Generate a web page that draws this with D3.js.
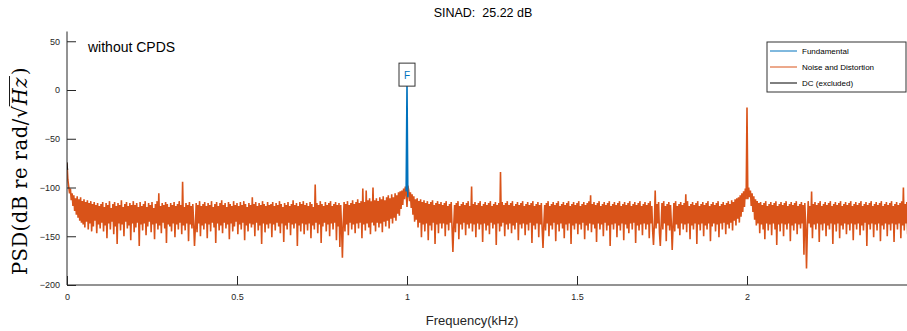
<!DOCTYPE html>
<html>
<head>
<meta charset="utf-8">
<script src="https://cdn.jsdelivr.net/npm/d3@7"></script>
<style>
  body { margin: 0; background: #fff; }
  svg { display: block; }
</style>
</head>
<body>
<svg id="chart" width="907" height="331"></svg>
<script>
// noise + distortion PSD (dB), one value every freqStep kHz starting at 0 kHz
const freqStep = 0.0025;
const noiseDb = [
  -75, -92, -99, -106, -101, -113, -106, -119, -108, -124, -111, -128, -109, -131, -112, -134, -110, -136, -114, -138, -112, -141, -115, -135, -113, -143, -116, -137, -114, -145, -117, -140, -115, -134, -118, -147, -116, -138, -119, -142,
  -117, -136, -115, -145, -120, -139, -116, -152, -118, -137, -114, -143, -121, -135, -117, -148, -115, -140, -119, -158, -116, -137, -118, -144, -113, -138, -120, -150, -117, -135, -115, -142, -119, -139, -116, -154, -118, -137, -114, -146,
  -118, -141, -116, -136, -120, -160, -115, -138, -119, -144, -117, -137, -114, -149, -120, -140, -116, -135, -118, -146, -115, -138, -121, -153, -117, -137, -114, -143, -106, -139, -119, -147, -116, -136, -118, -142, -115, -157, -117, -138,
  -120, -140, -116, -145, -118, -137, -115, -151, -119, -138, -117, -143, -114, -136, -118, -148, -94, -139, -120, -144, -116, -137, -118, -155, -115, -138, -119, -142, -117, -136, -160, -141, -116, -146, -118, -137, -114, -150, -119, -139,
  -117, -143, -115, -137, -119, -152, -116, -138, -118, -145, -114, -136, -120, -141, -117, -157, -115, -137, -119, -144, -116, -139, -113, -147, -118, -136, -116, -142, -120, -138, -115, -153, -117, -137, -119, -145, -114, -140, -118, -135,
  -116, -148, -119, -138, -115, -143, -118, -136, -114, -154, -117, -139, -120, -145, -116, -137, -118, -141, -110, -138, -117, -150, -115, -136, -119, -144, -116, -139, -118, -158, -114, -137, -117, -146, -119, -138, -115, -142, -118, -137,
  -117, -151, -115, -138, -119, -144, -116, -136, -118, -140, -114, -147, -117, -137, -120, -156, -116, -139, -118, -143, -115, -136, -119, -149, -117, -138, -113, -142, -118, -137, -116, -160, -119, -139, -115, -145, -117, -137, -114, -148,
  -118, -138, -116, -144, -119, -137, -115, -152, -117, -139, -120, -143, -97, -136, -116, -147, -118, -138, -114, -157, -117, -140, -119, -136, -115, -145, -118, -138, -116, -150, -114, -137, -119, -143, -117, -136, -115, -154, -118, -140,
  -116, -161, -118, -141, -172, -137, -115, -145, -117, -138, -114, -149, -118, -136, -116, -143, -113, -138, -117, -147, -115, -137, -112, -142, -116, -136, -114, -152, -101, -138, -115, -144, -103, -137, -113, -141, -111, -148, -114, -136,
  -100, -139, -113, -145, -111, -136, -114, -141, -110, -137, -112, -146, -109, -135, -113, -140, -110, -134, -108, -142, -111, -132, -107, -137, -110, -131, -106, -134, -108, -127, -105, -129, -104, -122, -103, -118, -101, -112, -99, -105,
  -120, -98, -103, -114, -105, -121, -107, -128, -109, -135, -112, -133, -111, -141, -114, -136, -112, -151, -115, -138, -113, -145, -116, -137, -114, -154, -117, -139, -115, -144, -113, -136, -118, -158, -116, -138, -114, -147, -117, -137,
  -115, -142, -118, -137, -116, -150, -114, -138, -119, -144, -117, -136, -115, -141, -166, -139, -118, -146, -116, -137, -114, -153, -119, -138, -117, -143, -115, -136, -118, -149, -116, -138, -114, -142, -119, -137, -99, -145, -117, -138,
  -115, -151, -118, -137, -116, -143, -114, -138, -119, -156, -117, -137, -115, -144, -118, -139, -116, -148, -114, -136, -119, -142, -117, -138, -115, -159, -118, -137, -116, -145, -84, -140, -115, -136, -118, -150, -116, -138, -114, -143,
  -118, -137, -116, -147, -114, -139, -119, -143, -117, -136, -115, -154, -118, -138, -116, -142, -114, -137, -119, -149, -117, -138, -115, -144, -118, -136, -116, -157, -114, -139, -119, -143, -117, -137, -115, -151, -118, -138, -116, -142,
  -162, -138, -118, -144, -116, -137, -114, -150, -119, -139, -117, -143, -115, -136, -118, -155, -116, -138, -114, -145, -119, -137, -117, -142, -115, -152, -118, -138, -116, -144, -114, -137, -119, -158, -117, -139, -115, -143, -118, -137,
  -116, -148, -114, -138, -119, -143, -117, -136, -115, -153, -118, -139, -116, -144, -114, -137, -108, -146, -117, -138, -115, -142, -118, -156, -116, -137, -114, -143, -119, -138, -117, -150, -115, -136, -118, -144, -116, -139, -114, -160,
  -119, -138, -117, -143, -115, -137, -118, -151, -116, -139, -114, -144, -119, -137, -117, -154, -115, -138, -118, -142, -116, -147, -114, -137, -119, -143, -117, -136, -115, -157, -118, -139, -116, -144, -114, -138, -119, -149, -117, -137,
  -115, -143, -118, -138, -116, -152, -114, -137, -119, -144, -159, -138, -103, -142, -117, -137, -115, -146, -160, -138, -116, -143, -114, -137, -119, -155, -117, -139, -115, -144, -118, -137, -164, -140, -116, -145, -114, -138, -119, -142,
  -117, -149, -115, -137, -118, -143, -116, -138, -107, -146, -114, -137, -119, -153, -117, -139, -115, -143, -118, -137, -116, -158, -114, -138, -119, -144, -117, -137, -115, -150, -118, -139, -116, -143, -114, -137, -119, -155, -117, -140,
  -115, -137, -118, -145, -116, -138, -114, -151, -119, -137, -117, -143, -115, -136, -118, -148, -116, -138, -114, -142, -117, -136, -113, -144, -115, -134, -112, -139, -111, -132, -110, -136, -108, -130, -106, -125, -104, -120, -101, -112,
  -18, -112, -100, -110, -103, -119, -106, -125, -109, -133, -112, -139, -114, -137, -116, -147, -115, -138, -118, -143, -116, -153, -114, -137, -119, -144, -117, -138, -115, -149, -118, -137, -116, -143, -114, -159, -119, -138, -117, -145,
  -115, -137, -118, -150, -116, -138, -114, -143, -119, -137, -117, -155, -115, -139, -118, -144, -116, -137, -114, -148, -119, -138, -117, -142, -115, -137, -118, -169, -116, -138, -183, -144, -114, -137, -119, -141, -104, -152, -117, -138,
  -115, -143, -118, -137, -116, -156, -114, -138, -119, -144, -117, -137, -115, -150, -118, -139, -116, -143, -114, -137, -119, -158, -117, -138, -115, -145, -118, -137, -116, -152, -114, -139, -119, -143, -117, -137, -115, -148, -118, -138,
  -116, -144, -114, -137, -119, -154, -117, -138, -115, -143, -118, -137, -116, -149, -114, -139, -119, -144, -117, -136, -115, -160, -118, -138, -116, -143, -114, -137, -119, -151, -117, -138, -115, -144, -118, -137, -116, -155, -114, -139,
  -119, -143, -117, -137, -115, -150, -118, -138, -116, -144, -114, -137, -119, -156, -117, -138, -115, -143, -118, -137, -116, -152, -114, -139, -100, -144, -117, -137, -115, -148
];
const fundFreq = [0.9975, 1.0, 1.0025];
const fundDb = [-104, 5, -110];
const dcFreq = [0, 0.002];
const dcDb = [-74, -82];

const xTicks = [0, 0.5, 1, 1.5, 2];
const yTicks = [50, 0, -50, -100, -150, -200];
const legendLabels = ["Fundamental", "Noise and Distortion", "DC (excluded)"];

const blue = "#0072BD", orange = "#D95319", axisCol = "#262626";
const fnt = "'Liberation Sans', Arial, Helvetica, sans-serif";

const svg = d3.select("#chart");
const plotL = 67, plotR = 917, plotT = 31.5, plotB = 285;

const x = d3.scaleLinear().domain([0, 2.5]).range([plotL, plotR]);
const y = d3.scaleLinear().domain([-200, 60]).range([plotB, plotT]);

svg.append("defs").append("clipPath").attr("id", "plotclip")
  .append("rect").attr("x", plotL).attr("y", plotT).attr("width", plotR - plotL).attr("height", plotB - plotT);

const line = d3.line().x(d => x(d[0])).y(d => y(d[1]));
const plot = svg.append("g").attr("clip-path", "url(#plotclip)");

const noisePts = noiseDb.map((v, i) => [i * freqStep, v]);
plot.append("path").datum(noisePts)
  .attr("d", line).attr("fill", "none").attr("stroke", orange)
  .attr("stroke-width", 1.6).attr("stroke-linejoin", "bevel");

plot.append("path").datum(dcFreq.map((f, i) => [f, dcDb[i]]))
  .attr("d", line).attr("fill", "none").attr("stroke", "#000").attr("stroke-width", 1);

plot.append("path").datum(fundFreq.map((f, i) => [f, fundDb[i]]))
  .attr("d", line).attr("fill", "none").attr("stroke", blue).attr("stroke-width", 1.6);

// axes, MATLAB style ticks pointing inward
const xAxis = d3.axisBottom(x).tickValues(xTicks).tickSize(-9).tickPadding(7).tickFormat(d3.format("~g"));
const yAxis = d3.axisLeft(y).tickValues(yTicks).tickSize(-9).tickPadding(7).tickFormat(d3.format("~g"));

const gx = svg.append("g").attr("transform", `translate(0,${plotB})`).call(xAxis);
const gy = svg.append("g").attr("transform", `translate(${plotL},0)`).call(yAxis);
[gx, gy].forEach(g => {
  g.select(".domain").attr("stroke", axisCol);
  g.selectAll(".tick line").attr("stroke", axisCol);
  g.selectAll(".tick text").attr("fill", axisCol).style("font-family", fnt).style("font-size", "9px");
});
gx.select(".domain").attr("d", `M${plotL},0H907`);
gy.select(".domain").attr("d", `M0,${plotT}V${plotB}`);
gx.selectAll(".tick text").attr("dy", "0.9em");

// marker box on the fundamental
const fx = x(fundFreq[1]), fy = y(fundDb[1]);
svg.append("rect").attr("x", fx - 8).attr("y", fy - 22).attr("width", 16).attr("height", 23)
  .attr("fill", "#fff").attr("stroke", "#333").attr("stroke-width", 1);
svg.append("text").attr("x", fx).attr("y", fy - 6.5).attr("text-anchor", "middle")
  .attr("fill", blue).style("font-family", fnt).style("font-size", "10px").text("F");

// title and labels
svg.append("text").attr("x", 483).attr("y", 17).attr("text-anchor", "middle")
  .attr("fill", "#000").style("font-family", fnt).style("font-size", "12.5px")
  .style("white-space", "pre").text("SINAD:  25.22 dB");

svg.append("text").attr("x", 472).attr("y", 325).attr("text-anchor", "middle")
  .attr("fill", axisCol).style("font-family", fnt).style("font-size", "13px").text("Frequency(kHz)");

svg.append("text").attr("x", 88).attr("y", 52).attr("fill", "#000")
  .style("font-family", fnt).style("font-size", "14px").text("without CPDS");

// y label, LaTeX-like: PSD(dB re rad/sqrt(Hz))
const serif = "'DejaVu Serif', 'Liberation Serif', serif";
const yl = svg.append("g").attr("transform", "translate(27,171) rotate(-90)");
const pieces = [
  { t: "PSD(dB re rad/", italic: false },
  { t: "\u221A", italic: false },
  { t: "Hz", italic: true, over: true },
  { t: ")", italic: false }
];
let cx = 0;
const placed = pieces.map(p => {
  const el = yl.append("text").attr("x", cx).attr("y", 0).attr("fill", "#000")
    .style("font-family", serif).style("font-size", "19.5px").style("letter-spacing", "0.5px")
    .style("font-style", p.italic ? "italic" : "normal").text(p.t);
  const w = el.node().getComputedTextLength();
  const r = { el, x0: cx, w, over: p.over };
  cx += w + (p.italic ? 2 : 0);
  return r;
});
const shift = -cx / 2;
placed.forEach(p => {
  p.el.attr("x", p.x0 + shift);
  if (p.over) {
    yl.append("line").attr("x1", p.x0 + shift - 1).attr("x2", p.x0 + shift + p.w + 1)
      .attr("y1", -17.5).attr("y2", -17.5).attr("stroke", "#000").attr("stroke-width", 0.9);
  }
});

// legend
const lg = svg.append("g").attr("transform", "translate(767,42)");
lg.append("rect").attr("width", 139).attr("height", 50).attr("fill", "#fff")
  .attr("stroke", "#333").attr("stroke-width", 1);
const legCols = [blue, orange, "#000"];
legendLabels.forEach((lab, i) => {
  const ry = 9 + i * 16;
  lg.append("line").attr("x1", 3).attr("x2", 30).attr("y1", ry).attr("y2", ry)
    .attr("stroke", legCols[i]).attr("stroke-width", 1);
  lg.append("text").attr("x", 35).attr("y", ry + 3).attr("fill", "#000")
    .style("font-family", fnt).style("font-size", "8px").text(lab);
});
</script>
</body>
</html>
